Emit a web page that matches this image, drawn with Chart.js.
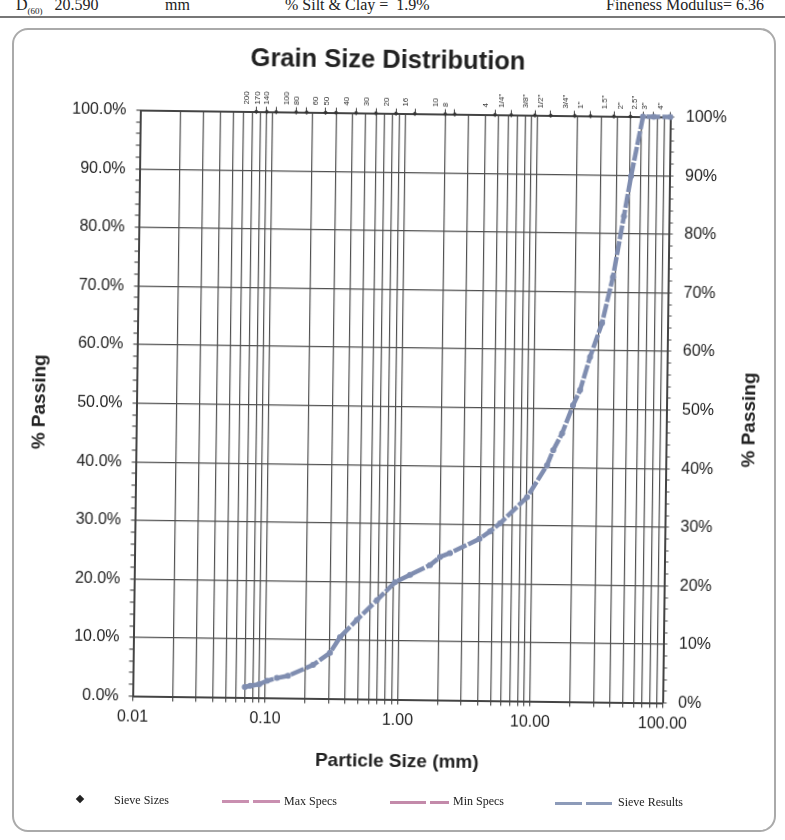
<!DOCTYPE html>
<html>
<head>
<meta charset="utf-8">
<script src="https://cdn.jsdelivr.net/npm/chart.js@4.4.0/dist/chart.umd.min.js"></script>
<style>
    body { margin: 0; width: 785px; height: 840px; overflow: hidden; background: #fff; position: relative; font-family: "Liberation Serif", serif; color: #222; }
    .hdr { position: absolute; top: -3px; font-size: 16px; line-height: 16px; white-space: nowrap; }
    .hdr sub { font-size: 9px; }
    #rule { position: absolute; left: 0; top: 16px; width: 785px; height: 2px; background: #777; }
    #frame { position: absolute; left: 12px; top: 28px; width: 760px; height: 800px; border: 2px solid #aaa; border-radius: 16px; }
    /* el escaneo original viene un poco girado */
    #chart-wrap { position: absolute; left: 0; top: 0; width: 785px; height: 840px; transform-origin: 401.5px 406.5px; transform: rotate(0.75deg); }
    .leg { position: absolute; font-size: 12px; line-height: 13px; white-space: nowrap; }
    .legline { position: absolute; height: 3px; }
</style>
</head>
<body>
<div class="hdr" style="left:16px">D<sub>(60)</sub>&nbsp;&nbsp;&nbsp;20.590</div>
<div class="hdr" style="left:165px">mm</div>
<div class="hdr" style="left:285px">% Silt &amp; Clay =&nbsp; 1.9%</div>
<div class="hdr" style="left:606px">Fineness Modulus= 6.36</div>
<div id="rule"></div>
<div id="frame"></div>

<div id="chart-wrap"><canvas id="grafica" width="785" height="840"></canvas></div>

<!-- leyenda -->
<div class="leg" style="left:77px;top:796px;width:6px;height:6px;background:#222;transform:rotate(45deg)"></div>
<div class="leg" style="left:114px;top:794px">Sieve Sizes</div>
<div class="legline" style="left:222px;top:800px;width:27px;background:#c98fb0"></div>
<div class="legline" style="left:253px;top:800px;width:27px;background:#c98fb0"></div>
<div class="leg" style="left:284px;top:795px">Max Specs</div>
<div class="legline" style="left:390px;top:801px;width:36px;background:#c38aaa"></div>
<div class="legline" style="left:430px;top:801px;width:19px;background:#c38aaa"></div>
<div class="leg" style="left:453px;top:795px">Min Specs</div>
<div class="legline" style="left:555px;top:802px;width:27px;background:#8d9bb9"></div>
<div class="legline" style="left:586px;top:802px;width:26px;background:#8d9bb9"></div>
<div class="leg" style="left:618px;top:796px">Sieve Results</div>

<script>
// tamices (mm) y sus etiquetas
const sieveSizes  = [0.075, 0.090, 0.106, 0.150, 0.180, 0.250, 0.300, 0.425, 0.600, 0.850, 1.18, 2.00, 2.36, 4.75, 6.30, 9.50, 12.5, 19.0, 25.0, 37.5, 50.0, 63.0, 75.0, 100];
const sieveLabels = ['200', '170', '140', '100', '80', '60', '50', '40', '30', '20', '16', '10', '8', '4', '1/4"', '3/8"', '1/2"', '3/4"', '1"', '1.5"', '2"', '2.5"', '3"', '4"'];

// resultados
const resultSizes   = [0.070, 0.077, 0.090, 0.103, 0.122, 0.148, 0.228, 0.305, 0.362, 0.484, 0.682, 0.929, 1.205, 1.70, 2.02, 2.40, 4.00, 4.80, 5.70, 9.04, 12.7, 14.1, 16.4, 19.7, 22.2, 26.2, 32.0, 38.3, 45.7, 51.2, 62.2, 75.0, 100];
const resultPassing = [1.8, 2.0, 2.3, 2.9, 3.4, 3.8, 5.7, 7.8, 10.5, 13.5, 16.9, 20.0, 21.3, 23.0, 24.4, 25.1, 27.6, 28.9, 30.3, 34.8, 40.3, 42.9, 45.8, 50.6, 53.2, 58.9, 64.7, 72.6, 83.0, 89.8, 100, 100, 100];

const maxSpecs = [];
const minSpecs = [];

// marcas de los ejes
const xDecades = [0.01, 0.1, 1, 10, 100];
const yMajorStep = 10;
const yMinorStep = 2;

const xGrid = [];
xDecades.forEach((d, i) => {
    if (i === xDecades.length - 1) { xGrid.push(d); return; }
    for (let m = 1; m <= 9; m++) xGrid.push(+(d * m).toPrecision(3));
});
const yTicks = [];
for (let v = 0; v <= 100; v += yMinorStep) yTicks.push(v);

const esDecada = v => Math.abs(Math.log10(v) - Math.round(Math.log10(v))) < 1e-6;
const GRID = '#505050';

Chart.defaults.font.family = '"Liberation Sans", Arial, sans-serif';
Chart.defaults.color = '#222';

// titulo del eje derecho (lee de abajo hacia arriba como el izquierdo)
const tituloDerecho = {
    id: 'tituloDerecho',
    afterDraw(chart) {
        const ctx = chart.ctx;
        ctx.save();
        ctx.translate(750, 415.5);
        ctx.rotate(-Math.PI / 2);
        ctx.font = 'bold 19px "Liberation Sans", Arial, sans-serif';
        ctx.fillStyle = '#222';
        ctx.textAlign = 'center';
        ctx.textBaseline = 'middle';
        ctx.fillText('% Passing', 0, 0);
        ctx.restore();
    }
};

new Chart(document.getElementById('grafica'), {
    type: 'line',
    data: {
        datasets: [
            {
                label: 'Sieve Results',
                data: resultSizes.map((x, i) => ({ x: x, y: resultPassing[i] })),
                borderColor: '#7f8db0',
                backgroundColor: '#7f8db0',
                borderWidth: 4.5,
                borderDash: [14, 2],
                pointRadius: 3,
                pointBorderWidth: 0,
                tension: 0,
                clip: false
            },
            {
                label: 'Sieve Sizes',
                data: sieveSizes.map(x => ({ x: x, y: 100 })),
                showLine: false,
                pointStyle: 'rectRot',
                pointRadius: 2.4,
                pointBorderWidth: 0,
                backgroundColor: '#333',
                borderColor: '#333',
                clip: false
            },
            { label: 'Max Specs', data: maxSpecs, borderColor: '#c98fb0', borderWidth: 3 },
            { label: 'Min Specs', data: minSpecs, borderColor: '#c38aaa', borderWidth: 3 }
        ]
    },
    options: {
        responsive: false,
        animation: false,
        layout: { padding: { top: 0, left: 2, right: 20, bottom: 56 } },
        plugins: {
            legend: { display: false },
            tooltip: { enabled: false },
            title: {
                display: true,
                text: 'Grain Size Distribution',
                color: '#222',
                font: { size: 25.5, weight: 'bold' },
                padding: { top: 46, bottom: 7 }
            }
        },
        scales: {
            x: {
                type: 'logarithmic',
                position: 'bottom',
                min: 0.01,
                max: 100,
                afterBuildTicks: s => { s.ticks = xGrid.map(v => ({ value: v })); },
                afterFit: s => { s.height = 84.5; },
                ticks: {
                    autoSkip: false, minRotation: 0, maxRotation: 0, padding: 6,
                    font: { size: 16 },
                    callback: v => esDecada(v) ? v.toFixed(2) : ''
                },
                grid: { color: GRID, lineWidth: 1.2, tickLength: 5, tickColor: GRID },
                border: { color: '#444', width: 2 },
                title: {
                    display: true, text: 'Particle Size (mm)',
                    font: { size: 19, weight: 'bold' }, padding: { top: 0, bottom: 11 }
                }
            },
            x2: {
                type: 'logarithmic',
                position: 'top',
                min: 0.01,
                max: 100,
                afterBuildTicks: s => { s.ticks = sieveSizes.map(v => ({ value: v })); },
                afterFit: s => { s.height = 30; },
                ticks: {
                    autoSkip: false, minRotation: 90, maxRotation: 90, padding: 2,
                    font: { size: 8 }, color: '#333',
                    callback: (v, i) => sieveLabels[i]
                },
                grid: { drawOnChartArea: false, tickLength: 5, color: '#444' },
                border: { color: '#444', width: 2 }
            },
            y: {
                position: 'left',
                min: 0,
                max: 100,
                afterBuildTicks: s => { s.ticks = yTicks.map(v => ({ value: v })); },
                afterFit: s => { s.width = 134.5; },
                ticks: {
                    autoSkip: false, padding: 10, font: { size: 16 },
                    callback: v => v % yMajorStep === 0 ? v.toFixed(1) + '%' : ''
                },
                grid: {
                    color: c => (c.tick && c.tick.value % yMajorStep === 0) ? GRID : 'rgba(0,0,0,0)',
                    lineWidth: 1.2, tickLength: 4, tickColor: GRID
                },
                border: { color: '#444', width: 2 },
                title: {
                    display: true, text: '% Passing',
                    font: { size: 19, weight: 'bold' }, padding: { top: 26.6, bottom: 0 }
                }
            },
            y2: {
                position: 'right',
                min: 0,
                max: 100,
                afterBuildTicks: s => { s.ticks = yTicks.map(v => ({ value: v })); },
                afterFit: s => { s.width = 98.5; },
                ticks: {
                    autoSkip: false, padding: 11.5, font: { size: 16 },
                    callback: v => v % yMajorStep === 0 ? v + '%' : ''
                },
                grid: { drawOnChartArea: false, tickLength: 4, color: GRID },
                border: { color: '#444', width: 2 }
            }
        }
    },
    plugins: [tituloDerecho]
});
</script>
</body>
</html>
